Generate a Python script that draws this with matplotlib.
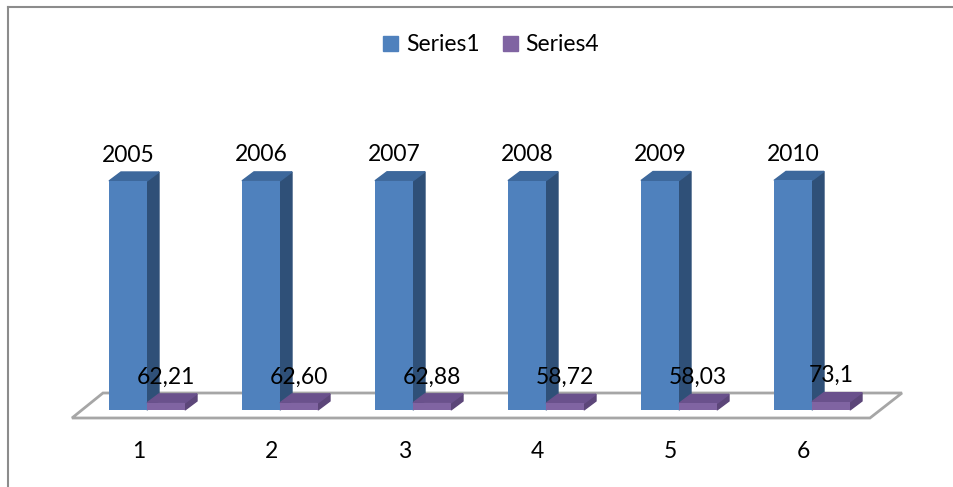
import matplotlib.pyplot as plt
from matplotlib.patches import Polygon, Patch
from matplotlib.lines import Line2D

# --- Data ---
categories = ["1", "2", "3", "4", "5", "6"]
series1 = [2005, 2006, 2007, 2008, 2009, 2010]
series1_labels = ["2005", "2006", "2007", "2008", "2009", "2010"]
series4 = [62.21, 62.60, 62.88, 58.72, 58.03, 73.1]
series4_labels = ["62,21", "62,60", "62,88", "58,72", "58,03", "73,1"]

# --- Colors (Excel 2007 style, front / side / top) ---
s1_colors = ("#4F81BD", "#2F5078", "#3D689C")
s4_colors = ("#8064A2", "#5C4679", "#6A518C")

plt.rcParams["font.family"] = ["Lato", "DejaVu Sans"]
FS = 16.5

fig = plt.figure(figsize=(9.54, 4.87), dpi=100)
ax = fig.add_axes([0, 0, 1, 1])

# scale: one category = 133 px, 2005 units = 229 px
px_x = 1 / 133.0
px_y = 2005 / 229.0
ax.set_xlim(-147 * px_x, (954 - 147) * px_x)
ax.set_ylim(-77 * px_y, 410 * px_y)
ax.axis("off")

width = 38 * px_x
dx, dy = 12 * px_x, 9 * px_y


def bars3d(xs, heights, colors, z):
    front, side, top = colors
    ax.bar(xs, heights, width, align="edge", color=front, zorder=z + 0.2)
    for x, h in zip(xs, heights):
        ax.add_patch(Polygon([(x + width, 0), (x + width + dx, dy),
                              (x + width + dx, h + dy), (x + width, h)],
                             closed=True, color=side, zorder=z))
        ax.add_patch(Polygon([(x, h), (x + dx, h + dy),
                              (x + width + dx, h + dy), (x + width, h)],
                             closed=True, color=top, zorder=z))


n = len(categories)
# floor
fl, fr = -0.564, n - 0.564
floor = Polygon([(fl, -8 * px_y), (fr, -8 * px_y),
                 (fr + 32 * px_x, 17 * px_y), (fl + 31 * px_x, 17 * px_y)],
                closed=True, facecolor="white", edgecolor="#A6A6A6",
                linewidth=2, zorder=1)
ax.add_patch(floor)

x1 = [i - width for i in range(n)]
x4 = [i for i in range(n)]
bars3d(x1, series1, s1_colors, 2)
bars3d(x4, series4, s4_colors, 3)

for x, h, lab in zip(x1, series1, series1_labels):
    ax.annotate(lab, (x + width / 2, h), xytext=(0, 18.7),
                textcoords="offset points", ha="center", va="center",
                fontsize=FS, zorder=5)
for x, h, lab in zip(x4, series4, series4_labels):
    ax.annotate(lab, (x + width / 2, h), xytext=(0, 18.7),
                textcoords="offset points", ha="center", va="center",
                fontsize=FS, zorder=5)

# category labels under the floor
for i, c in enumerate(categories):
    ax.text(fl + i + 0.5, -42 * px_y, c, ha="center", va="center", fontsize=FS)

# legend
handles = [Patch(color=s1_colors[0], label="Series1"),
           Patch(color=s4_colors[0], label="Series4")]
fig.legend(handles=handles, loc="center", bbox_to_anchor=(0.515, 0.908),
           ncol=2, frameon=False, fontsize=FS, handlelength=0.65,
           handleheight=0.65, handletextpad=0.35, columnspacing=1.0)

# chart border (left and top)
fig.add_artist(Line2D([8 / 954, 8 / 954], [0, 1 - 7 / 487], color="#8C8C8C",
                      linewidth=1.5))
fig.add_artist(Line2D([8 / 954, 1], [1 - 7 / 487, 1 - 7 / 487], color="#8C8C8C",
                      linewidth=1.5))

plt.savefig("out.png", dpi=100)
